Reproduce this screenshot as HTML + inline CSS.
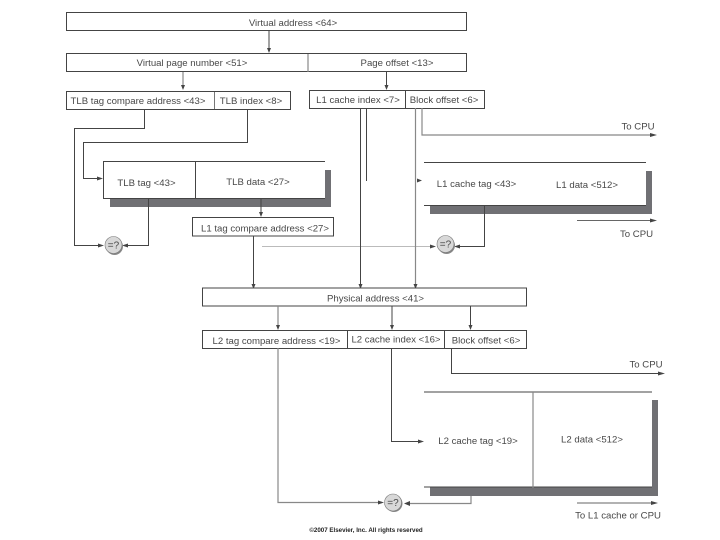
<!DOCTYPE html>
<html>
<head>
<meta charset="utf-8">
<style>
html,body{margin:0;padding:0;background:#fff;width:720px;height:540px;overflow:hidden}
svg{display:block;filter:blur(0.35px)}
text{font-family:"Liberation Sans",sans-serif;font-size:9.6px;fill:#484848;text-anchor:middle}
.b{fill:#fff;stroke:#444;stroke-width:1}
.l{fill:none;stroke:#444;stroke-width:1}
.g{fill:none;stroke:#888;stroke-width:1.2}
.s{fill:#707074}
.a{fill:#444}
.c{fill:#d8d8d8;stroke:#777;stroke-width:.6}
.sh{fill:#888}
.q{font-size:10px}
</style>
</head>
<body>
<svg width="720" height="540" viewBox="0 0 720 540" xmlns="http://www.w3.org/2000/svg">
<rect width="720" height="540" fill="#fff"/>

<!-- top boxes -->
<rect class="b" x="66.500" y="12.500" width="400" height="18"/>
<text x="293" y="26">Virtual address &lt;64&gt;</text>
<path class="l" d="M269 31V50"/><path class="a" d="M267 48h4l-2 5z"/>

<rect class="b" x="66.500" y="53.500" width="400" height="18"/>
<path class="g" d="M308 54V72"/>
<text x="192" y="66">Virtual page number &lt;51&gt;</text>
<text x="397" y="66">Page offset &lt;13&gt;</text>
<path class="g" d="M183 72V87"/><path class="a" d="M181 85h4l-2 5z"/>
<path class="l" d="M386.500 72V87"/><path class="a" d="M384.500 85h4l-2 5z"/>

<rect class="b" x="66.500" y="91.500" width="224" height="18"/>
<path class="l" style="stroke:#777" d="M214.500 92V109"/>
<text x="138" y="104">TLB tag compare address &lt;43&gt;</text>
<text x="251" y="104">TLB index &lt;8&gt;</text>

<rect class="b" x="309.500" y="90.500" width="175" height="18"/>
<path class="l" d="M405.500 91V108"/>
<text x="358" y="103">L1 cache index &lt;7&gt;</text>
<text x="444" y="103">Block offset &lt;6&gt;</text>

<!-- TLB lines -->
<path class="l" d="M144.500 109V128.500H74.500V245.500H100"/>
<path class="a" d="M98 243.500l6 2-6 2z"/>
<path class="l" d="M247.500 109V142.500H83.500V178.500H100"/>
<path class="a" d="M97 176.500l6 2-6 2z"/>

<!-- TLB box -->
<rect class="s" x="110" y="198" width="221" height="9"/>
<rect class="s" x="325" y="170" width="6" height="37"/>
<path class="l" d="M325 161.500H103.500V198.500H325"/>
<path class="l" d="M195.500 162V198"/>
<text x="146.500" y="186">TLB tag &lt;43&gt;</text>
<text x="258" y="185">TLB data &lt;27&gt;</text>

<path class="l" d="M148.500 199V245.500H126"/>
<path class="a" d="M128 243.500l-6 2 6 2z"/>
<circle class="sh" cx="114.500" cy="246.500" r="8.500"/>
<circle class="c" cx="113.500" cy="245" r="8.500"/>
<text class="q" x="113.500" y="248.500">=?</text>

<path class="l" d="M261 198V214"/><path class="a" d="M259 212h4l-2 5z"/>
<rect class="b" x="192.500" y="217.500" width="141" height="18.500"/>
<text x="265" y="231.500">L1 tag compare address &lt;27&gt;</text>
<path class="l" d="M253.500 236V286"/><path class="a" d="M251.500 284h4l-2 5z"/>
<path fill="none" stroke="#bbb" stroke-width="1" d="M262 246.500H430"/>
<path class="a" d="M430 244.500l6 2-6 2z"/>

<!-- L1 lines -->
<path class="l" d="M360.500 108V286"/><path class="a" d="M358.500 284h4l-2 5z"/>
<path class="l" d="M366.500 108V181"/>
<path class="g" d="M415.500 108V286"/><path class="a" d="M413.500 284h4l-2 5z"/>
<path class="g" d="M422 108V135H652"/>
<path class="a" d="M650 133l7 2-7 2z"/>
<text x="638" y="129.500">To CPU</text>
<path class="a" d="M417 178.500l5 2-5 2z"/>

<!-- L1 cache box -->
<rect class="s" x="430" y="205" width="222" height="9"/>
<rect class="s" x="646" y="171" width="6" height="43"/>
<path class="l" d="M424 162.500H646"/>
<path class="l" d="M424 205.500H646"/>
<text x="476.500" y="187">L1 cache tag &lt;43&gt;</text>
<text x="587" y="188">L1 data &lt;512&gt;</text>

<path fill="none" stroke="#666" stroke-width="1" d="M577 220.500H652"/>
<path class="a" d="M650 218.500l7 2-7 2z"/>
<text x="636.500" y="237">To CPU</text>

<path class="l" d="M484.500 206V246.500H458"/>
<path class="a" d="M460 244.500l-6 2 6 2z"/>
<circle class="sh" cx="446.500" cy="245.500" r="8.500"/>
<circle class="c" cx="445.500" cy="244" r="8.500"/>
<text class="q" x="445.500" y="247.500">=?</text>

<!-- Physical -->
<rect class="b" x="202.500" y="288" width="324" height="18"/>
<text x="375.500" y="301.500">Physical address &lt;41&gt;</text>
<path class="g" d="M278 306V327"/><path class="a" d="M276 325h4l-2 5z"/>
<path class="l" d="M392 306V327"/><path class="a" d="M390 325h4l-2 5z"/>
<path class="l" d="M470.500 306V327"/><path class="a" d="M468.500 325h4l-2 5z"/>

<rect class="b" x="202.500" y="330.500" width="324" height="18"/>
<path class="l" d="M347.500 331V348M444.500 331V348"/>
<text x="276.500" y="344">L2 tag compare address &lt;19&gt;</text>
<text x="396" y="342.500">L2 cache index &lt;16&gt;</text>
<text x="486" y="343.500">Block offset &lt;6&gt;</text>

<path class="g" d="M278 348V502.500H382"/>
<path class="a" d="M378 500.500l6 2-6 2z"/>
<path class="l" d="M391.500 348V441.500H420"/>
<path class="a" d="M418 439.500l6 2-6 2z"/>
<path class="l" d="M451.500 348V373.500H660"/>
<path class="a" d="M658 371.500l7 2-7 2z"/>
<text x="646" y="367.500">To CPU</text>

<!-- L2 box -->
<rect class="s" x="430" y="487" width="228" height="9"/>
<rect class="s" x="652" y="400" width="6" height="96"/>
<path class="l" d="M424 392H652"/>
<path class="l" d="M424 487H652"/>
<path class="g" d="M533 392V488"/>
<text x="478" y="444">L2 cache tag &lt;19&gt;</text>
<text x="592" y="442.500">L2 data &lt;512&gt;</text>

<path class="g" d="M471 496V503.500H408"/>
<path class="a" d="M410 501l-6 2.500 6 2.500z"/>
<circle class="sh" cx="394" cy="503.500" r="8.500"/>
<circle class="c" cx="393" cy="502.500" r="8.500"/>
<text class="q" x="393" y="506">=?</text>

<path fill="none" stroke="#666" stroke-width="1" d="M577 503H653"/>
<path class="a" d="M651 501l7 2-7 2z"/>
<text x="618" y="518.500">To L1 cache or CPU</text>

<text x="366" y="532" style="font-size:6.200px;fill:#222;font-weight:bold">©2007 Elsevier, Inc. All rights reserved</text>
</svg>
</body>
</html>
